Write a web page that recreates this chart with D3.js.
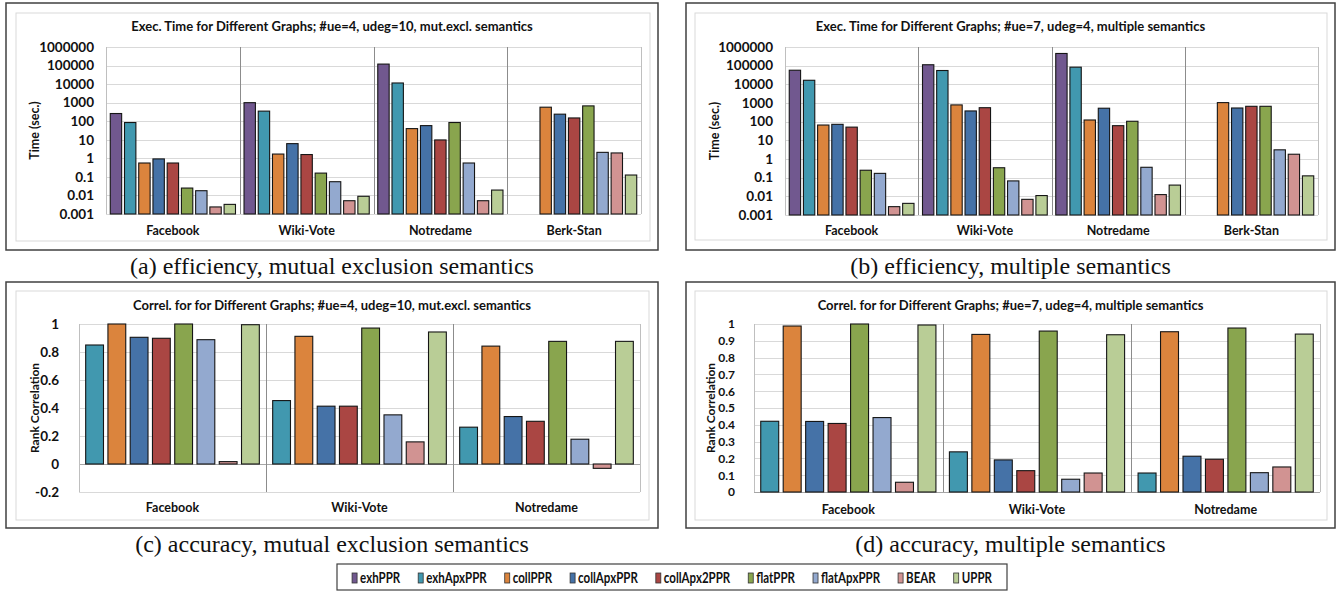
<!DOCTYPE html>
<html lang="en">
<head>
<meta charset="UTF-8">
<title>Exec. time and correlation for different graphs</title>
<script src="https://d3js.org/d3.v7.min.js"></script>
<style>
    body { margin: 0; background: #fff; }
    svg text { font-family: Lato, "Open Sans", sans-serif; font-weight: bold; fill: #111; }
    .caption { font-family: "Liberation Serif", "DejaVu Serif", serif !important; font-weight: normal !important; font-size: 24px; }
    .legend text { font-family: Lato, sans-serif; font-size: 16px; }
</style>
</head>
<body>
<div id="chart"></div>
<script>
    // series and colours (Excel 2007 palette)
    const series = ["exhPPR", "exhApxPPR", "collPPR", "collApxPPR", "collApx2PPR", "flatPPR", "flatApxPPR", "BEAR", "UPPR"];
    const colors = ["#71588f", "#4198af", "#db843d", "#4572a7", "#aa4643", "#89a54e", "#93a9cf", "#d19392", "#b9cd96"];

    const timeGraphs = ["Facebook", "Wiki-Vote", "Notredame", "Berk-Stan"];
    const corrGraphs = ["Facebook", "Wiki-Vote", "Notredame"];

    // one row per series, one column per graph (null = not run)
    const timeMutExcl = [
        [260, 1000, 120000, null],
        [85, 350, 11500, null],
        [0.56, 1.7, 40, 570],
        [0.93, 6.2, 58, 240],
        [0.56, 1.6, 9.8, 150],
        [0.025, 0.16, 85, 670],
        [0.018, 0.055, 0.56, 2.1],
        [0.0024, 0.0052, 0.0052, 1.95],
        [0.0033, 0.009, 0.0195, 0.126]
    ];
    const timeMultiple = [
        [57000, 112000, 450000, null],
        [16500, 55000, 83000, null],
        [66, 790, 123, 1050],
        [72, 375, 525, 540],
        [51, 560, 61, 665],
        [0.25, 0.34, 105, 665],
        [0.17, 0.067, 0.36, 3.1],
        [0.0028, 0.0069, 0.0124, 1.8],
        [0.0042, 0.011, 0.04, 0.125]
    ];
    // correlation panels have no exhPPR series
    const corrMutExcl = [
        [0.85, 0.453, 0.263],
        [1.0, 0.912, 0.842],
        [0.905, 0.413, 0.339],
        [0.898, 0.413, 0.305],
        [1.0, 0.971, 0.876],
        [0.888, 0.351, 0.177],
        [0.017, 0.158, -0.031],
        [0.995, 0.943, 0.876]
    ];
    const corrMultiple = [
        [0.421, 0.239, 0.113],
        [0.988, 0.938, 0.954],
        [0.42, 0.191, 0.213],
        [0.408, 0.127, 0.195],
        [1.0, 0.958, 0.976],
        [0.443, 0.076, 0.115],
        [0.058, 0.113, 0.149],
        [0.994, 0.936, 0.94]
    ];

    const timeTicks = [0.001, 0.01, 0.1, 1, 10, 100, 1000, 10000, 100000, 1000000];
    const corrTicksC = [-0.2, 0, 0.2, 0.4, 0.6, 0.8, 1];
    const corrTicksD = [0, 0.1, 0.2, 0.3, 0.4, 0.5, 0.6, 0.7, 0.8, 0.9, 1];

    const width = 1343, height = 592;

    const svg = d3.select("#chart").append("svg")
        .attr("width", width)
        .attr("height", height);

    const panels = [
        {
            title: "Exec. Time for Different Graphs; #ue=4, udeg=10, mut.excl. semantics",
            caption: "(a) efficiency, mutual exclusion semantics",
            ylabel: "Time (sec.)", log: true, ticks: timeTicks,
            graphs: timeGraphs, keys: series, cols: colors, values: timeMutExcl,
            outer: [6, 3, 658, 250], inner: [16, 13, 650, 241],
            px: [106, 641], py: [214, 47], tickPad: 12, tickSize: 13.5, ylabSize: 12.5,
            titleY: 31, catY: 235, ylabX: 35, capY: 274
        },
        {
            title: "Exec. Time for Different Graphs; #ue=7, udeg=4, multiple semantics",
            caption: "(b) efficiency, multiple semantics",
            ylabel: "Time (sec.)", log: true, ticks: timeTicks,
            graphs: timeGraphs, keys: series, cols: colors, values: timeMultiple,
            outer: [686, 3, 1335, 250], inner: [695, 13, 1327, 240],
            px: [785, 1318], py: [215, 47], tickPad: 12, tickSize: 13.5, ylabSize: 12.5,
            titleY: 31, catY: 235, ylabX: 715, capY: 274
        },
        {
            title: "Correl. for for Different Graphs; #ue=4, udeg=10, mut.excl. semantics",
            caption: "(c) accuracy, mutual exclusion semantics",
            ylabel: "Rank Correlation", log: false, ticks: corrTicksC,
            graphs: corrGraphs, keys: series.slice(1), cols: colors.slice(1), values: corrMutExcl,
            outer: [6, 282, 658, 528], inner: [16, 291, 649, 520],
            px: [79, 640], py: [492, 324], tickPad: 20, tickSize: 13.5, ylabSize: 12,
            titleY: 310, catY: 512, ylabX: 35, capY: 552
        },
        {
            title: "Correl. for for Different Graphs; #ue=7, udeg=4, multiple semantics",
            caption: "(d) accuracy, multiple semantics",
            ylabel: "Rank Correlation", log: false, ticks: corrTicksD,
            graphs: corrGraphs, keys: series.slice(1), cols: colors.slice(1), values: corrMultiple,
            outer: [686, 282, 1335, 528], inner: [695, 291, 1327, 520],
            px: [754, 1320], py: [492, 324], tickPad: 19, tickSize: 12, ylabSize: 12,
            titleY: 310, catY: 514, ylabX: 711, capY: 552
        }
    ];

    panels.forEach(p => {
        const g = svg.append("g");
        const [ox0, oy0, ox1, oy1] = p.outer;
        const [ix0, iy0, ix1, iy1] = p.inner;

        g.append("rect")
            .attr("x", ox0).attr("y", oy0)
            .attr("width", ox1 - ox0).attr("height", oy1 - oy0)
            .attr("fill", "#fff").attr("stroke", "#404040").attr("stroke-width", 1.5);
        g.append("rect")
            .attr("x", ix0).attr("y", iy0)
            .attr("width", ix1 - ix0).attr("height", iy1 - iy0)
            .attr("fill", "none").attr("stroke", "#d9d9d9");

        const x0 = d3.scaleBand().domain(p.graphs).range(p.px).padding(0);
        const x1 = d3.scaleBand().domain(p.keys).range([0, x0.bandwidth()])
            .paddingInner(0.2).paddingOuter(0.3);
        const y = p.log
            ? d3.scaleLog().domain([0.001, 1000000]).range(p.py)
            : d3.scaleLinear().domain(d3.extent(p.ticks)).range(p.py);

        // horizontal gridlines
        g.append("g").selectAll("line")
            .data(p.ticks)
            .join("line")
            .attr("x1", p.px[0]).attr("x2", p.px[1])
            .attr("y1", d => Math.round(y(d)) + 0.5).attr("y2", d => Math.round(y(d)) + 0.5)
            .attr("stroke", d => (!p.log && d === 0) ? "#a6a6a6" : "#d9d9d9")
            .attr("stroke-width", 1.2);

        // vertical category separators
        const seps = p.graphs.map(d => x0(d)).concat([p.px[1]]);
        g.append("g").selectAll("line")
            .data(seps)
            .join("line")
            .attr("x1", d => Math.round(d) + 0.5).attr("x2", d => Math.round(d) + 0.5)
            .attr("y1", p.py[1]).attr("y2", p.py[0])
            .attr("stroke", (d, i) => (i === 0 || i === seps.length - 1) ? "#bfbfbf" : "#8c8c8c");

        // bars
        const base = p.log ? y(0.001) : y(0);
        const cells = [];
        p.keys.forEach((k, si) => {
            p.graphs.forEach((gr, gi) => {
                const v = p.values[si][gi];
                if (v !== null) cells.push({ key: k, graph: gr, value: v, color: p.cols[si] });
            });
        });
        g.append("g").selectAll("rect")
            .data(cells)
            .join("rect")
            .attr("x", d => x0(d.graph) + x1(d.key))
            .attr("width", x1.bandwidth())
            .attr("y", d => Math.min(y(d.value), base))
            .attr("height", d => Math.abs(base - y(d.value)))
            .attr("fill", d => d.color)
            .attr("stroke", "#151515")
            .attr("stroke-width", 1.1);

        // y tick labels
        const axis = g.append("g")
            .attr("transform", `translate(${p.px[0]},0)`)
            .call(d3.axisLeft(y).tickValues(p.ticks).tickSize(0).tickPadding(p.tickPad)
                .tickFormat(d => String(d)));
        axis.select(".domain").remove();
        axis.selectAll("text")
            .style("font-family", "Lato, sans-serif")
            .style("font-weight", "bold")
            .style("font-size", p.tickSize + "px")
            .attr("fill", "#111");

        // category labels
        g.append("g").selectAll("text")
            .data(p.graphs)
            .join("text")
            .attr("x", d => x0(d) + x0.bandwidth() / 2)
            .attr("y", p.catY)
            .attr("text-anchor", "middle")
            .style("font-size", "12.5px")
            .text(d => d);

        // title
        g.append("text")
            .attr("x", (ox0 + ox1) / 2)
            .attr("y", p.titleY)
            .attr("text-anchor", "middle")
            .style("font-size", "13px")
            .text(p.title);

        // y axis label
        g.append("text")
            .attr("transform", `translate(${p.ylabX},${(p.py[0] + p.py[1]) / 2}) rotate(-90)`)
            .attr("text-anchor", "middle")
            .attr("dy", "0.35em")
            .style("font-size", p.ylabSize + "px")
            .text(p.ylabel);

        // caption under the panel
        svg.append("text")
            .attr("class", "caption")
            .attr("x", (ox0 + ox1) / 2)
            .attr("y", p.capY)
            .attr("text-anchor", "middle")
            .text(p.caption);
    });

    // shared legend, narrow text squeezed horizontally
    const squeeze = 0.72;
    const legend = svg.append("g").attr("class", "legend");
    legend.append("rect")
        .attr("x", 337).attr("y", 564)
        .attr("width", 1007 - 337).attr("height", 26)
        .attr("fill", "#fff").attr("stroke", "#404040").attr("stroke-width", 1.2);

    let lx = 0;
    const items = legend.append("g");
    series.forEach((s, i) => {
        const it = items.append("g").attr("transform", `translate(${lx},0)`);
        it.append("rect")
            .attr("x", 0).attr("y", 573)
            .attr("width", 5).attr("height", 10)
            .attr("fill", colors[i]).attr("stroke", "#333").attr("stroke-width", 0.8);
        const t = it.append("text")
            .attr("transform", `translate(8,583) scale(${squeeze},1)`)
            .text(s);
        lx += 8 + t.node().getComputedTextLength() * squeeze + 18;
    });
    lx -= 18;
    items.attr("transform", `translate(${(337 + 1007) / 2 - lx / 2},0)`);
</script>
</body>
</html>
